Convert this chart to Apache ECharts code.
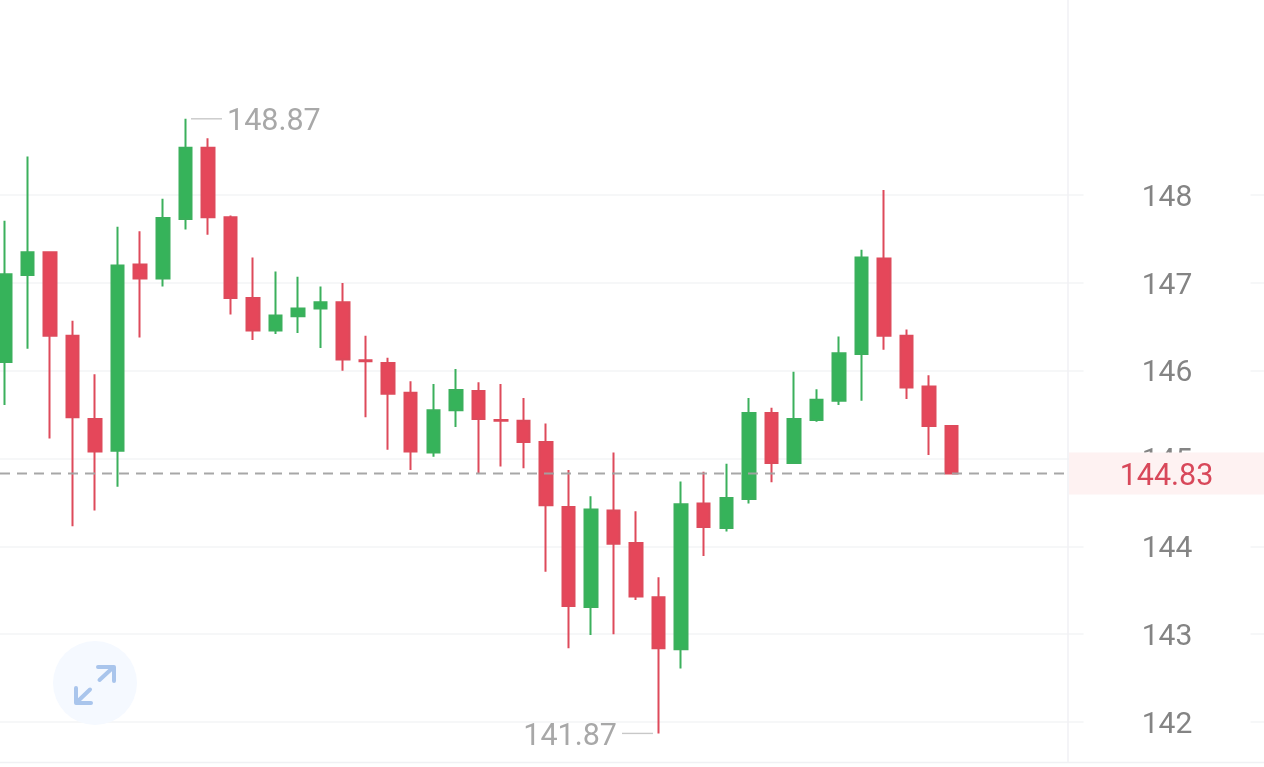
<!DOCTYPE html>
<html><head><meta charset="utf-8">
<script src="https://cdn.jsdelivr.net/npm/echarts@6/dist/echarts.min.js"></script>
<style>html,body{margin:0;padding:0;background:#fff;overflow:hidden}#c{width:1264px;height:767px}</style>
</head><body><div id="c"></div>
<script>
const opens  = [146.10,147.09,147.35,146.40,145.45,145.09,147.21,147.05,147.73,148.54,147.75,146.83,146.46,146.62,146.71,146.78,146.12,146.09,145.75,145.07,145.55,145.77,145.44,145.43,145.19,144.45,143.31,144.41,144.04,143.42,142.83,144.49,144.21,144.54,145.52,144.95,145.44,145.66,146.19,147.28,146.40,145.82,145.37];
const closes = [147.10,147.35,146.40,145.47,145.08,147.20,147.05,147.74,148.54,147.75,146.83,146.46,146.63,146.71,146.78,146.13,146.11,145.74,145.08,145.55,145.78,145.45,145.43,145.19,144.47,143.32,144.42,144.03,143.43,142.84,144.48,144.22,144.55,145.52,144.95,145.45,145.67,146.20,147.29,146.40,145.81,145.37,144.83];
const lows   = [145.61,146.25,145.23,144.23,144.41,144.68,146.38,146.96,147.61,147.55,146.64,146.35,146.42,146.43,146.26,146.00,145.47,145.10,144.87,145.02,145.36,144.83,144.91,144.89,143.71,142.84,142.99,143.00,143.39,141.87,142.61,143.89,144.17,144.49,144.73,144.95,145.42,145.61,145.66,146.24,145.68,145.04,144.82];
const highs  = [147.71,148.44,147.36,146.57,145.96,147.64,147.59,147.96,148.87,148.65,147.77,147.29,147.13,147.07,146.96,147.00,146.40,146.15,145.88,145.85,146.02,145.87,145.85,145.69,145.40,144.87,144.57,145.07,144.40,143.65,144.74,144.85,144.94,145.69,145.58,145.99,145.79,146.39,147.38,148.06,146.47,145.95,145.37];
const lastPrice = 144.83;
const maxPrice = 148.87;
const minPrice = 141.87;
const badgeTop = 145.07;
const badgeBottom = 144.59;
const chartTopValue = 150.3;
const chartBottomValue = 141.54;

const slots = 57;
const categories = Array.from({length: slots}, (_, i) => String(i + 1));
const candleData = opens.map((o, i) => [o, closes[i], lows[i], highs[i]]);

const RED = '#e5475a', GREEN = '#36b35a';
const FONT = 'Roboto';
const noteLabel = (pos) => ({show: true, position: pos, distance: 5, offset: [0, 4], color: '#a8a8a8', fontSize: 30.5, fontFamily: FONT,
  formatter: p => p.value[1].toFixed(2)});
const helper = {type: 'line', xAxisIndex: 1, yAxisIndex: 1, symbol: 'none', clip: false, silent: true, animation: false};

const chart = echarts.init(document.getElementById('c'), null, {renderer: 'canvas'});
chart.setOption({
  animation: false,
  backgroundColor: '#fff',
  grid: [
    {left: -6.27, top: 195.2, width: 1284.78, height: 526.8, containLabel: false, outerBoundsMode: 'none'},
    {left: 0, top: 195.2, width: 1264, height: 526.8, containLabel: false, outerBoundsMode: 'none'}
  ],
  xAxis: [
    {type: 'category', gridIndex: 0, data: categories, show: false},
    {type: 'value', gridIndex: 1, min: 0, max: 1264, show: false}
  ],
  yAxis: [
    {type: 'value', gridIndex: 0, position: 'right', offset: -111.5, min: 142, max: 148, interval: 1, z: 1,
      axisLine: {show: false}, axisTick: {show: false},
      splitLine: {show: true, lineStyle: {color: '#f3f4f6', width: 1.5}},
      axisLabel: {show: true, margin: 0, align: 'center', verticalAlign: 'middle', formatter: '{t|{value}}',
        width: 167, backgroundColor: '#fff',
        rich: {t: {color: '#848484', fontSize: 30, fontFamily: FONT, lineHeight: 34, padding: [6, 0, 0, 0]}}}},
    {type: 'value', gridIndex: 1, min: 142, max: 148, interval: 1, show: false}
  ],
  series: [
    {type: 'candlestick', xAxisIndex: 0, yAxisIndex: 0, data: candleData, barWidth: 13, clip: false, z: 3,
      itemStyle: {color: GREEN, color0: RED, borderColor: '#3bb05c', borderColor0: '#de4a5b', borderWidth: 2}},
    Object.assign({}, helper, {z: 2, data: [[1068, chartTopValue], [1068, chartBottomValue]], lineStyle: {color: '#f0f1f4', width: 1.5}}),
    Object.assign({}, helper, {z: 2, data: [[0, chartBottomValue], [1264, chartBottomValue]], lineStyle: {color: '#f0f1f4', width: 1.5}}),
    Object.assign({}, helper, {z: 4, data: [[0, lastPrice], [1068, lastPrice]],
      lineStyle: {color: '#a2a2a2', width: 2, type: [10, 7], opacity: 0.95},
      markArea: {silent: true, z: 4, itemStyle: {color: '#fef2f2'},
        label: {show: true, position: 'inside', offset: [0, 4], color: '#d8485a', fontSize: 30.5, fontFamily: FONT, formatter: lastPrice.toFixed(2)},
        data: [[{xAxis: 1069, yAxis: badgeTop}, {xAxis: 1264, yAxis: badgeBottom}]]}}),
    Object.assign({}, helper, {z: 4, symbol: 'circle', symbolSize: 0, data: [[191, maxPrice], {value: [222, maxPrice], label: noteLabel('right')}],
      lineStyle: {color: '#c8c8c8', width: 1.4}}),
    Object.assign({}, helper, {z: 4, symbol: 'circle', symbolSize: 0, data: [{value: [622, minPrice], label: noteLabel('left')}, [653, minPrice]],
      lineStyle: {color: '#c8c8c8', width: 1.4}})
  ],
  graphic: [
    {type: 'circle', z: 10, shape: {cx: 95, cy: 683, r: 42}, style: {fill: '#f5f9ff'}, silent: true},
    {type: 'polyline', z: 11, shape: {points: [[99.5, 680], [112.5, 668]]}, style: {stroke: '#a9c5ec', lineWidth: 4, lineCap: 'round', fill: null}, silent: true},
    {type: 'polyline', z: 11, shape: {points: [[98, 667], [114, 667], [114, 681]]}, style: {stroke: '#a9c5ec', lineWidth: 4, lineCap: 'round', lineJoin: 'round', fill: null}, silent: true},
    {type: 'polyline', z: 11, shape: {points: [[90, 689.5], [77.5, 701.5]]}, style: {stroke: '#a9c5ec', lineWidth: 4, lineCap: 'round', fill: null}, silent: true},
    {type: 'polyline', z: 11, shape: {points: [[76, 688], [76, 703], [91, 703]]}, style: {stroke: '#a9c5ec', lineWidth: 4, lineCap: 'round', lineJoin: 'round', fill: null}, silent: true}
  ]
});
</script></body></html>
